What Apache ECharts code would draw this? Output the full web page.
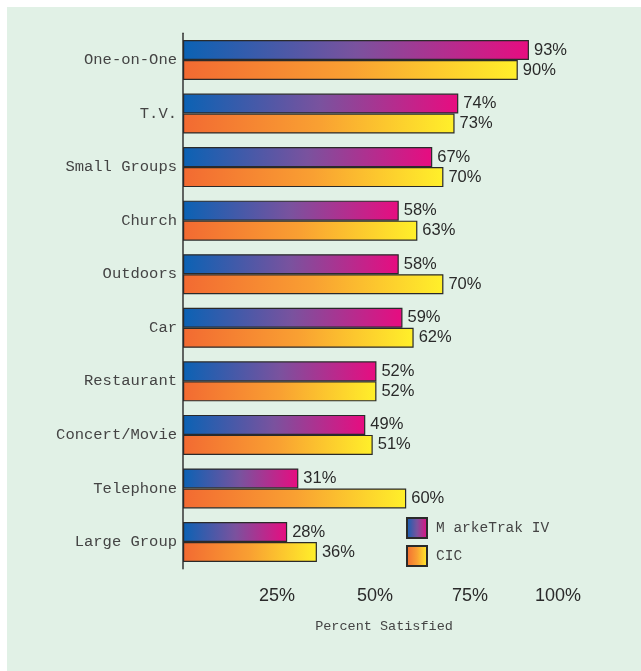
<!DOCTYPE html>
<html>
<head>
<meta charset="utf-8">
<script src="https://cdn.jsdelivr.net/npm/echarts@6/dist/echarts.min.js"></script>
<style>
html,body{margin:0;padding:0;background:#ffffff;}
#chart{width:641px;height:671px;}
</style>
</head>
<body>
<div id="chart"></div>
<script>
const categories = ['One-on-One','T.V.','Small Groups','Church','Outdoors','Car','Restaurant','Concert/Movie','Telephone','Large Group'];
const markeTrak = [93,74,67,58,58,59,52,49,31,28];
const cic = [90,73,70,63,70,62,52,51,60,36];
const seriesNames = ['M arkeTrak IV','CIC'];
const xTicks = [0,25,50,75,100];

const chart = echarts.init(document.getElementById('chart'));
const grad = (stops) => new echarts.graphic.LinearGradient(0,0,1,0, stops.map((c,i)=>({offset:i/(stops.length-1), color:c})));
const blueGrad = grad(['#0b62b4','#7a529e','#e80c80']);
const orangeGrad = grad(['#f26a32','#f9a032','#fff02a']);

const labelStyle = {show:true, position:'right', distance:5, formatter:'{c}%', fontFamily:'Liberation Sans, Arial, sans-serif', fontSize:16.5, color:'#2a2a2a'};
const tickFont = {fontFamily:'Liberation Sans, Arial, sans-serif', fontSize:18, color:'#2a2a2a'};
// small horizontal nudges of tick labels (styling only)
const tickNudge = {25:2, 50:12, 75:16, 100:6};

chart.setOption({
  backgroundColor:'#ffffff',
  animation:false,
  graphic:[{type:'rect', z:-10, shape:{x:7,y:7,width:634,height:664}, style:{fill:'#e1f1e6'}}],
  grid:{left:183, right:86, top:33.2, bottom:102.2},
  legend:{
    data:seriesNames, orient:'vertical', left:406, top:517, padding:0, itemWidth:20, itemHeight:20, itemGap:6, icon:'rect',
    textStyle:{fontFamily:'Liberation Mono, Courier New, monospace', fontSize:14.5, color:'#444', padding:[0,0,0,4]}
  },
  xAxis:{
    type:'value', min:xTicks[0], max:xTicks[xTicks.length-1], interval:25,
    axisLine:{show:false}, axisTick:{show:false}, splitLine:{show:false},
    axisLabel:{margin:18, ...tickFont,
      formatter:v => v===0 ? '' : '{t' + v + '|' + v + '%}',
      rich:Object.fromEntries(Object.entries(tickNudge).map(([k,p]) => ['t'+k, {...tickFont, padding:[0,0,0,p]}]))},
    name:'Percent Satisfied', nameLocation:'middle', nameGap:51,
    nameTextStyle:{fontFamily:'Liberation Mono, Courier New, monospace', fontSize:13.5, color:'#444', padding:[0,0,0,30]}
  },
  yAxis:{
    type:'category', data:categories, inverse:true,
    axisLine:{show:true, lineStyle:{color:'#333', width:1.5}}, axisTick:{show:false},
    axisLabel:{margin:6, fontFamily:'Liberation Mono, Courier New, monospace', fontSize:15.5, color:'#444'}
  },
  series:[
    {name:seriesNames[0], type:'bar', data:markeTrak, barWidth:20, barGap:'0%',
     itemStyle:{color:blueGrad, borderColor:'#2a2a2a', borderWidth:1.2}, label:labelStyle},
    {name:seriesNames[1], type:'bar', data:cic, barWidth:20, barGap:'0%',
     itemStyle:{color:orangeGrad, borderColor:'#2a2a2a', borderWidth:1.2}, label:labelStyle}
  ]
});
</script>
</body>
</html>
